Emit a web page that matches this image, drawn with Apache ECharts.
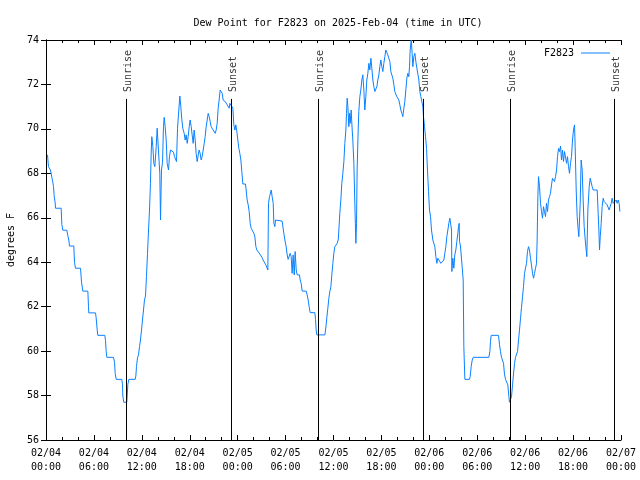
<!DOCTYPE html>
<html>
<head>
<meta charset="utf-8">
<script src="https://cdn.jsdelivr.net/npm/echarts@6/dist/echarts.min.js"></script>
<style>html,body{margin:0;padding:0;background:#fff}#c{width:640px;height:480px}</style>
</head>
<body>
<div id="c"></div>
<script>
// ---- data ----
const stationName = 'F2823';
const titleText = 'Dew Point for F2823 on 2025-Feb-04 (time in UTC)';
const yAxisName = 'degrees F';
// hours since 2025-02-04 00:00 UTC
const hours = [
0.19,0.31,0.56,0.85,0.94,1.02,1.15,1.19,1.90,1.98,2.11,2.61,2.73,2.86,2.94,3.48,3.57,3.69,4.32,4.45,4.61,5.24,5.32,5.36,6.20,6.28,6.41,6.49,7.37,7.45,7.54,7.62,8.45,8.58,8.66,8.79,9.49,9.58,9.62,9.74,10.12,10.25,10.37,11.17,11.25,11.33,11.46,11.58,11.71,11.83,11.96,12.08,12.21,12.33,12.46,12.58,12.71,12.84,
12.96,13.08,13.17,13.25,13.38,13.50,13.63,13.80,13.92,14.13,14.25,14.34,14.46,14.59,14.71,14.80,14.92,15.05,15.17,15.34,15.46,15.59,15.80,15.97,16.09,16.22,16.34,16.47,16.63,16.76,16.88,17.01,17.13,17.30,17.43,17.55,17.68,17.80,17.93,18.05,18.18,18.30,18.43,18.55,18.68,18.80,18.93,19.05,19.18,19.30,19.43,19.55,19.68,19.81,19.93,20.06,20.18,20.31,20.43,20.56,20.68,20.81,20.93,21.06,21.18,21.31,21.43,21.56,21.68,21.81,21.93,22.06,22.18,22.31,22.44,22.56,22.69,22.81,22.94,23.02,23.15,
23.27,23.40,23.52,23.65,23.77,23.90,24.02,24.15,24.27,24.40,24.52,24.65,24.98,25.06,25.19,25.32,25.44,25.57,25.69,25.90,26.03,26.15,26.28,26.40,26.65,26.78,26.90,27.03,27.15,27.28,27.40,27.53,27.65,27.78,27.86,27.99,28.20,28.32,28.45,28.53,28.66,28.74,28.91,29.57,29.66,29.78,29.91,29.95,30.07,30.20,30.32,30.45,30.58,30.70,30.82,30.95,31.08,31.20,31.33,31.45,31.74,31.83,31.95,32.08,32.58,32.70,32.83,32.95,33.08,33.66,33.75,33.83,33.91,34.92,35.00,35.08,35.17,35.29,35.42,35.54,35.67,35.79,35.92,36.04,36.17,36.34,36.46,36.59,36.67,36.79,36.92,37.04,37.17,37.30,37.42,37.55,37.63,37.71,37.80,37.92,38.00,38.09,38.21,38.34,38.42,38.55,38.67,38.80,38.88,38.96,39.09,39.17,39.30,39.42,39.55,39.67,39.80,39.92,40.05,40.17,40.30,40.43,40.55,40.68,40.80,40.93,41.05,41.18,41.30,41.43,41.55,41.68,41.80,41.93,42.05,42.18,42.30,42.43,42.55,42.68,42.80,42.93,43.06,43.18,43.31,43.43,43.56,43.68,43.81,43.93,44.06,44.18,44.31,44.43,44.56,44.68,44.81,44.93,45.06,45.18,45.31,45.43,45.52,45.60,45.73,45.85,45.93,46.06,46.19,46.31,46.44,46.56,46.69,46.81,46.94,47.06,47.19,
47.27,47.40,47.52,47.65,47.77,47.90,48.02,48.15,48.27,48.44,48.56,48.69,48.82,48.94,49.07,49.19,49.32,49.44,49.69,49.82,49.94,50.07,50.19,50.32,50.44,50.57,50.69,50.78,50.82,50.94,51.07,51.19,51.32,51.44,51.57,51.65,51.74,51.78,51.90,52.15,52.24,52.32,52.45,53.03,53.11,53.24,53.37,53.49,55.45,55.58,55.66,55.74,56.66,56.79,56.91,57.04,57.16,57.29,57.41,57.54,57.71,57.83,57.96,58.04,58.17,58.29,58.42,58.54,58.67,58.79,58.92,59.04,59.17,59.29,59.42,59.54,59.67,59.79,59.92,60.04,60.17,60.29,60.42,60.54,60.67,60.79,60.92,61.05,61.17,61.30,61.42,61.50,61.59,61.67,61.80,61.92,62.05,62.17,62.30,62.42,62.55,62.67,62.80,62.92,63.05,63.17,63.30,63.42,63.55,63.67,63.80,63.93,64.05,64.18,64.30,64.43,64.55,64.68,64.80,64.93,65.05,65.18,65.30,65.43,65.55,65.68,65.80,65.93,66.05,66.18,66.26,66.39,66.51,66.64,66.72,66.89,67.01,67.14,67.26,67.39,67.52,67.64,67.72,67.85,68.02,68.14,68.27,68.39,68.52,69.02,69.14,69.23,69.31,69.40,69.52,69.64,69.77,69.89,70.02,70.14,70.27,70.39,70.52,70.64,70.77,70.89,71.02,71.14,71.27,71.40,71.52,71.65,71.77,71.86
];
const dewPoint = [
68.83,68.3,68.15,67.6,67.4,67.0,66.67,66.43,66.43,65.7,65.44,65.44,65.2,65.0,64.73,64.73,64.0,63.73,63.73,63.1,62.7,62.7,62.0,61.72,61.72,61.5,60.95,60.71,60.71,60.47,59.97,59.72,59.72,59.5,59.0,58.73,58.73,58.48,57.98,57.7,57.7,58.5,58.73,58.73,58.88,59.3,59.7,59.83,60.2,60.5,60.95,61.4,61.85,62.3,62.48,63.35,64.4,65.45,
66.35,67.55,68.9,69.65,69.2,68.45,68.3,69.2,70.03,70.0,68.0,65.9,68.15,68.5,70.1,70.52,70.1,69.5,68.45,68.15,68.75,69.05,69.1,68.95,68.75,68.83,68.53,70.03,70.85,71.48,71.0,70.4,70.03,69.8,69.5,69.73,69.35,69.65,70.1,70.4,70.1,69.73,69.35,69.95,69.5,68.9,68.53,68.8,69.05,68.9,68.6,68.75,69.05,69.35,69.65,70.1,70.18,70.7,70.55,70.33,70.1,70.03,69.95,69.88,69.8,69.95,70.25,70.93,71.3,71.75,71.83,71.6,71.3,71.23,71.23,71.15,71.08,71.0,70.93,71.15,71.15,
71.08,70.93,70.18,69.95,70.18,69.88,69.5,69.12,68.9,68.6,68.08,67.52,67.52,67.25,66.8,66.58,66.28,65.75,65.53,65.5,65.3,65.15,64.7,64.55,64.52,64.37,64.28,64.22,64.13,64.03,63.95,63.88,63.8,63.65,66.65,66.95,67.25,66.95,66.65,65.75,65.6,65.9,65.9,65.85,65.8,65.3,65.0,64.93,64.7,64.33,64.13,64.18,64.4,64.25,63.5,64.33,63.43,64.48,63.65,63.43,63.43,63.2,63.05,62.7,62.7,62.53,62.3,62.0,61.73,61.73,61.43,60.95,60.73,60.73,60.95,61.18,61.52,61.93,62.38,62.68,62.9,63.43,63.95,64.4,64.7,64.78,64.85,65.0,65.45,66.2,66.8,67.55,68.0,68.53,69.35,69.95,70.7,71.38,71.0,70.1,70.7,70.25,70.85,69.95,69.5,68.45,66.65,64.85,65.75,68.15,69.95,70.78,71.45,71.75,72.2,72.43,71.75,70.85,71.45,72.2,72.5,72.95,72.65,73.18,72.73,72.2,71.9,71.68,71.7,71.9,72.2,72.43,72.8,73.1,72.8,72.58,72.95,73.25,73.55,73.5,73.33,73.4,73.03,72.58,72.5,72.28,71.98,71.68,71.6,71.45,71.45,71.3,71.08,70.85,70.7,70.55,70.93,71.23,71.75,72.28,72.5,72.35,72.8,73.55,74.0,73.4,72.8,73.25,73.4,73.03,72.73,72.65,72.2,71.68,71.45,71.38,71.0,
70.55,70.1,69.65,69.12,68.15,67.18,66.35,66.05,65.45,65.0,64.93,64.7,64.25,63.95,64.18,64.25,64.1,63.95,63.95,64.1,64.4,64.7,65.15,65.45,65.75,65.98,66.05,65.45,63.58,64.18,63.73,64.33,64.55,64.93,65.3,65.6,65.75,64.93,64.73,64.73,63.2,60.2,58.73,58.73,58.85,59.3,59.6,59.72,59.72,59.98,60.43,60.71,60.71,60.28,59.98,59.72,59.7,59.45,58.97,58.73,58.7,58.48,57.95,57.7,57.7,57.95,58.48,58.97,59.45,59.72,59.72,59.98,60.5,60.95,61.48,61.97,62.45,62.9,63.5,63.73,63.95,64.48,64.7,64.55,64.18,63.88,63.5,63.28,63.5,63.73,63.95,65.0,66.95,67.85,67.4,66.65,66.28,65.98,66.5,66.28,66.05,66.65,66.28,66.8,66.95,67.1,67.48,67.78,67.7,67.63,67.85,68.15,68.75,69.12,68.98,69.23,68.6,69.05,68.53,68.98,68.9,68.45,68.75,68.3,68.0,68.45,68.75,69.5,69.95,70.18,69.2,67.25,66.05,65.45,65.15,66.65,68.6,68.15,66.8,65.6,65.0,64.55,64.25,66.35,67.4,67.78,67.85,67.4,67.25,67.25,66.2,65.45,64.55,65.15,65.75,66.5,66.88,66.73,66.65,66.73,66.58,66.65,66.35,66.5,66.65,66.88,66.65,66.65,66.73,66.8,66.65,66.8,66.65,66.28
];
const sunEvents = ['Sunrise','Sunset','Sunrise','Sunset','Sunrise','Sunset'];
const sunHours = [9.99, 23.14, 34.03, 47.18, 58.08, 71.10];
const xTickLabels = ['02/04\n00:00','02/04\n06:00','02/04\n12:00','02/04\n18:00','02/05\n00:00','02/05\n06:00','02/05\n12:00','02/05\n18:00','02/06\n00:00','02/06\n06:00','02/06\n12:00','02/06\n18:00','02/07\n00:00'];

// ---- styling / layout ----
const FONT = 'DejaVu Sans Mono';
const LINE_COLOR = '#0a80ff';
const yMin = 56, yMax = 74;
const markerTop = 71.35;   // top end of sunrise/sunset lines (value units)
const labelBase = 71.66;   // where the rotated labels start

const series = hours.map((h, i) => [h, dewPoint[i]]);

const chart = echarts.init(document.getElementById('c'), null, {renderer: 'canvas'});
const tickCommon = {show: true, inside: true, length: 5, lineStyle: {color: '#000'}};
const minorCommon = {show: true, splitNumber: 3, length: 3, lineStyle: {color: '#000'}};
chart.setOption({
  animation: false,
  backgroundColor: '#fff',
  textStyle: {fontFamily: FONT},
  title: {
    text: titleText, left: 333, top: 13, textAlign: 'center',
    textStyle: {fontFamily: FONT, fontSize: 10, fontWeight: 'normal', color: '#000'}
  },
  legend: {
    data: [stationName], right: 25, top: 43, align: 'right',
    itemWidth: 29, itemHeight: 1, icon: 'rect',
    textStyle: {fontFamily: FONT, fontSize: 10, color: '#000', padding: [0, 2, 0, 0]}
  },
  grid: {left: 46, right: 19, top: 40, bottom: 40, containLabel: false, outerBoundsMode: 'none'},
  xAxis: [{
    type: 'value', min: 0, max: 72, interval: 6,
    axisLine: {show: true, lineStyle: {color: '#000'}},
    axisTick: tickCommon, minorTick: minorCommon,
    splitLine: {show: false},
    axisLabel: {margin: 6, fontFamily: FONT, fontSize: 10, color: '#000', lineHeight: 14,
      formatter: v => xTickLabels[Math.round(v / 6)]}
  }, {
    type: 'value', min: 0, max: 72, interval: 6, position: 'top',
    axisLine: {show: true, lineStyle: {color: '#000'}},
    axisTick: tickCommon, minorTick: minorCommon,
    splitLine: {show: false}, axisLabel: {show: false}
  }],
  yAxis: [{
    type: 'value', min: yMin, max: yMax, interval: 2,
    name: yAxisName, nameLocation: 'middle', nameGap: 30, nameRotate: 90,
    nameTextStyle: {fontFamily: FONT, fontSize: 10, color: '#000'},
    axisLine: {show: true, lineStyle: {color: '#000'}},
    axisTick: tickCommon, splitLine: {show: false},
    axisLabel: {margin: 7, fontFamily: FONT, fontSize: 10, color: '#000'}
  }, {
    type: 'value', min: yMin, max: yMax, interval: 2, position: 'right',
    axisLine: {show: true, lineStyle: {color: '#000'}},
    axisTick: tickCommon, splitLine: {show: false}, axisLabel: {show: false}
  }],
  series: [{
    name: stationName, type: 'line', data: series, showSymbol: false, symbol: 'none',
    lineStyle: {color: LINE_COLOR, width: 1}, itemStyle: {color: LINE_COLOR},
    markLine: {
      silent: true, symbol: 'none', label: {show: false},
      lineStyle: {color: '#000', width: 1, type: 'solid'},
      data: sunHours.map(h => [{coord: [h, yMin]}, {coord: [h, markerTop]}])
    }
  }, {
    name: 'sun', type: 'scatter', symbolSize: 1, silent: true,
    itemStyle: {color: 'rgba(0,0,0,0)'},
    data: sunHours.map((h, i) => ({value: [h, labelBase], name: sunEvents[i]})),
    label: {show: true, formatter: p => p.name, position: 'inside', rotate: 90,
      align: 'left', verticalAlign: 'middle', offset: [0, 3],
      fontFamily: FONT, fontSize: 10, color: '#000'}
  }]
});
</script>
</body>
</html>
